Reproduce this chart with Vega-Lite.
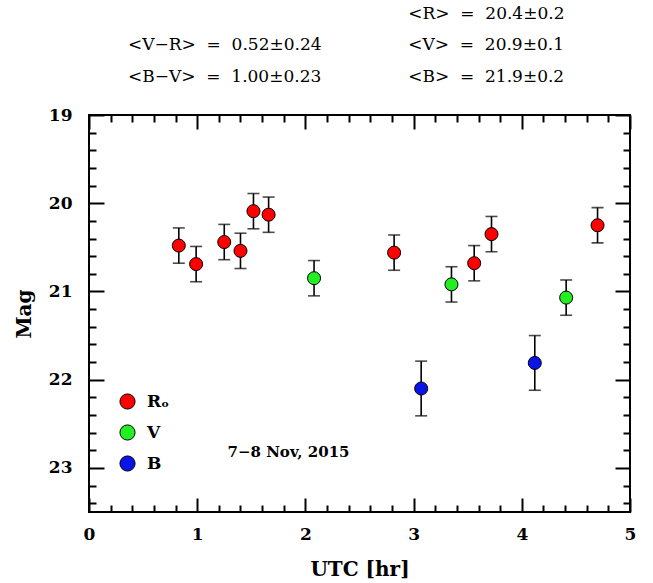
{
  "$schema": "https://vega.github.io/schema/vega-lite/v6.json",
  "width": 541,
  "height": 397,
  "autosize": "none",
  "padding": {"left": 89, "top": 115, "right": 23, "bottom": 71},
  "background": "white",
  "config": {
    "view": {"stroke": "black", "strokeWidth": 2},
    "font": "DejaVu Serif"
  },
  "datasets": {
    "obs": [
      {"t": 0.83, "mag": 20.48, "lo": 20.28, "hi": 20.68, "band": "R"},
      {"t": 0.99, "mag": 20.69, "lo": 20.49, "hi": 20.89, "band": "R"},
      {"t": 1.25, "mag": 20.44, "lo": 20.24, "hi": 20.64, "band": "R"},
      {"t": 1.40, "mag": 20.54, "lo": 20.34, "hi": 20.74, "band": "R"},
      {"t": 1.52, "mag": 20.09, "lo": 19.89, "hi": 20.29, "band": "R"},
      {"t": 1.66, "mag": 20.13, "lo": 19.93, "hi": 20.33, "band": "R"},
      {"t": 2.82, "mag": 20.56, "lo": 20.36, "hi": 20.76, "band": "R"},
      {"t": 3.56, "mag": 20.68, "lo": 20.48, "hi": 20.88, "band": "R"},
      {"t": 3.72, "mag": 20.35, "lo": 20.15, "hi": 20.55, "band": "R"},
      {"t": 4.70, "mag": 20.25, "lo": 20.05, "hi": 20.45, "band": "R"},
      {"t": 2.08, "mag": 20.85, "lo": 20.65, "hi": 21.05, "band": "V"},
      {"t": 3.35, "mag": 20.92, "lo": 20.72, "hi": 21.12, "band": "V"},
      {"t": 4.41, "mag": 21.07, "lo": 20.87, "hi": 21.27, "band": "V"},
      {"t": 3.07, "mag": 22.10, "lo": 21.79, "hi": 22.41, "band": "B"},
      {"t": 4.12, "mag": 21.81, "lo": 21.50, "hi": 22.12, "band": "B"}
    ],
    "notes": [
      {"tx": 2.95, "ty": 17.85, "label": "<R>\u00a0\u00a0=\u00a0\u00a020.4±0.2", "kind": "top"},
      {"tx": 0.36, "ty": 18.21, "label": "<V−R>\u00a0\u00a0=\u00a0\u00a00.52±0.24", "kind": "top"},
      {"tx": 2.95, "ty": 18.21, "label": "<V>\u00a0\u00a0=\u00a0\u00a020.9±0.1", "kind": "top"},
      {"tx": 0.36, "ty": 18.57, "label": "<B−V>\u00a0\u00a0=\u00a0\u00a01.00±0.23", "kind": "top"},
      {"tx": 2.95, "ty": 18.57, "label": "<B>\u00a0\u00a0=\u00a0\u00a021.9±0.2", "kind": "top"},
      {"tx": 1.28, "ty": 22.82, "label": "7−8 Nov, 2015", "kind": "date"}
    ]
  },
  "resolve": {"axis": {"x": "independent", "y": "independent"}},
  "layer": [
    {
      "data": {"name": "obs"},
      "mark": {"type": "rule", "color": "black", "strokeWidth": 1.6},
      "encoding": {
        "x": {
          "field": "t", "type": "quantitative",
          "scale": {"domain": [0, 5], "nice": false, "zero": false},
          "axis": {
            "orient": "bottom",
            "values": [0,0.2,0.4,0.6,0.8,1,1.2,1.4,1.6,1.8,2,2.2,2.4,2.6,2.8,3,3.2,3.4,3.6,3.8,4,4.2,4.4,4.6,4.8,5],
            "labelExpr": "abs(datum.value - round(datum.value)) < 0.01 ? format(datum.value, 'd') : ''",
            "tickSize": {"condition": {"test": "abs(datum.value - round(datum.value)) < 0.01", "value": -14}, "value": -7},
            "tickColor": "black", "tickWidth": 2,
            "domain": false, "grid": false,
            "labelFont": "DejaVu Serif", "labelFontWeight": "bold", "labelFontSize": 17, "labelColor": "black",
            "labelPadding": 28, "labelFlush": false, "labelOverlap": false,
            "title": "UTC [hr]", "titleFont": "DejaVu Serif", "titleFontWeight": "bold", "titleFontSize": 20, "titleColor": "black", "titlePadding": 10
          }
        },
        "y": {
          "field": "lo", "type": "quantitative",
          "scale": {"domain": [19, 23.5], "nice": false, "zero": false, "reverse": true},
          "axis": {
            "orient": "left",
            "values": [19,19.2,19.4,19.6,19.8,20,20.2,20.4,20.6,20.8,21,21.2,21.4,21.6,21.8,22,22.2,22.4,22.6,22.8,23,23.2,23.4],
            "labelExpr": "abs(datum.value - round(datum.value)) < 0.01 ? format(datum.value, 'd') : ''",
            "tickSize": {"condition": {"test": "abs(datum.value - round(datum.value)) < 0.01", "value": -15}, "value": -7},
            "tickColor": "black", "tickWidth": 2,
            "domain": false, "grid": false,
            "labelFont": "DejaVu Serif", "labelFontWeight": "bold", "labelFontSize": 17, "labelColor": "black",
            "labelPadding": 32, "labelFlush": false, "labelOverlap": false,
            "title": "Mag", "titleFont": "DejaVu Serif", "titleFontWeight": "bold", "titleFontSize": 20, "titleColor": "black", "titlePadding": 14
          }
        },
        "y2": {"field": "hi"}
      }
    },
    {
      "data": {"name": "obs"},
      "mark": {"type": "tick", "orient": "horizontal", "color": "black", "size": 12, "thickness": 1.6},
      "encoding": {
        "x": {"field": "t", "type": "quantitative", "axis": null},
        "y": {"field": "lo", "type": "quantitative", "axis": null}
      }
    },
    {
      "data": {"name": "obs"},
      "mark": {"type": "tick", "orient": "horizontal", "color": "black", "size": 12, "thickness": 1.6},
      "encoding": {
        "x": {"field": "t", "type": "quantitative", "axis": null},
        "y": {"field": "hi", "type": "quantitative", "axis": null}
      }
    },
    {
      "data": {"name": "obs"},
      "mark": {"type": "circle", "size": 170, "stroke": "black", "strokeWidth": 1, "opacity": 1},
      "encoding": {
        "x": {
          "field": "t", "type": "quantitative",
          "axis": {
            "orient": "top",
            "values": [0,0.2,0.4,0.6,0.8,1,1.2,1.4,1.6,1.8,2,2.2,2.4,2.6,2.8,3,3.2,3.4,3.6,3.8,4,4.2,4.4,4.6,4.8,5],
            "labels": false, "title": null, "domain": false, "grid": false,
            "tickSize": {"condition": {"test": "abs(datum.value - round(datum.value)) < 0.01", "value": -14}, "value": -7},
            "tickColor": "black", "tickWidth": 2
          }
        },
        "y": {
          "field": "mag", "type": "quantitative",
          "axis": {
            "orient": "right",
            "values": [19,19.2,19.4,19.6,19.8,20,20.2,20.4,20.6,20.8,21,21.2,21.4,21.6,21.8,22,22.2,22.4,22.6,22.8,23,23.2,23.4],
            "labels": false, "title": null, "domain": false, "grid": false,
            "tickSize": {"condition": {"test": "abs(datum.value - round(datum.value)) < 0.01", "value": -15}, "value": -7},
            "tickColor": "black", "tickWidth": 2
          }
        },
        "color": {
          "field": "band", "type": "nominal",
          "scale": {"domain": ["R", "V", "B"], "range": ["#ff0000", "#22ee22", "#0a14e6"]},
          "legend": {
            "orient": "none", "legendX": 30, "legendY": 278,
            "title": null, "symbolType": "circle", "symbolSize": 230,
            "symbolStrokeColor": "black", "symbolStrokeWidth": 1, "symbolOpacity": 1,
            "labelFont": "DejaVu Serif", "labelFontSize": 17, "labelFontWeight": "bold", "labelColor": "black",
            "labelOffset": 11, "rowPadding": 10,
            "labelExpr": "datum.label == 'R' ? 'Rₒ' : datum.label"
          }
        }
      }
    },
    {
      "data": {"name": "notes"},
      "transform": [{"filter": "datum.kind == 'top'"}],
      "mark": {"type": "text", "align": "left", "baseline": "middle", "font": "DejaVu Serif", "fontSize": 17, "color": "black"},
      "encoding": {
        "x": {"field": "tx", "type": "quantitative", "axis": null},
        "y": {"field": "ty", "type": "quantitative", "axis": null},
        "text": {"field": "label"}
      }
    },
    {
      "data": {"name": "notes"},
      "transform": [{"filter": "datum.kind == 'date'"}],
      "mark": {"type": "text", "align": "left", "baseline": "middle", "font": "DejaVu Serif", "fontSize": 15, "fontWeight": "bold", "color": "black"},
      "encoding": {
        "x": {"field": "tx", "type": "quantitative", "axis": null},
        "y": {"field": "ty", "type": "quantitative", "axis": null},
        "text": {"field": "label"}
      }
    }
  ]
}
